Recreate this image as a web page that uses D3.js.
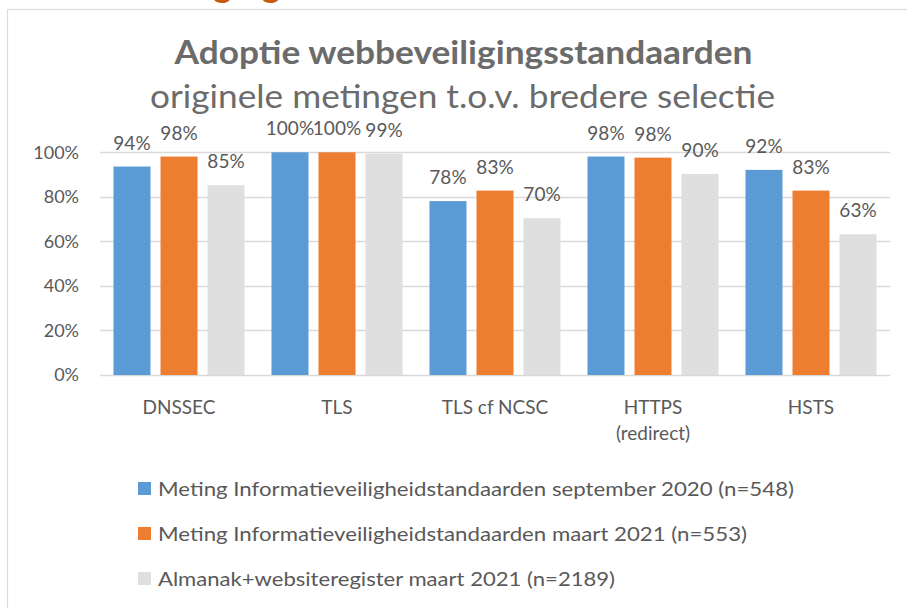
<!DOCTYPE html>
<html>
<head>
<meta charset="utf-8">
<script src="https://cdn.jsdelivr.net/npm/d3@7"></script>
<style>
    html, body { margin: 0; padding: 0; background: #fff; overflow: hidden; }
    text { font-family: Lato, "Open Sans", sans-serif; }
</style>
</head>
<body>
<div id="chart"></div>
<script>
// data
let categories = ["DNSSEC", "TLS", "TLS cf NCSC", "HTTPS\n(redirect)", "HSTS"];
let seriesNames = [
    "Meting Informatieveiligheidstandaarden september 2020 (n=548)",
    "Meting Informatieveiligheidstandaarden maart 2021 (n=553)",
    "Almanak+websiteregister maart 2021 (n=2189)"
];
let sep2020 = [0.936, 1.0, 0.781, 0.981, 0.921];
let mrt2021 = [0.981, 1.0, 0.828, 0.976, 0.828];
let almanak = [0.852, 0.994, 0.704, 0.903, 0.632];
let yTicks = [0, 0.2, 0.4, 0.6, 0.8, 1.0];
let seriesColors = ["#5B9BD5", "#ED7D31", "#DFDFDF"];

class adoptionBarChart {
    constructor(parentElement) {
        this.parentElement = parentElement;
        this.series = [sep2020, mrt2021, almanak];
        this.initVis();
    }

    initVis() {
        let vis = this;
        vis.width = 907;
        vis.height = 608;

        vis.svg = d3.select("#" + vis.parentElement).append("svg")
            .attr("width", vis.width)
            .attr("height", vis.height);

        // cut off orange heading of the page above the chart
        vis.heading = vis.svg.append("text")
            .attr("y", -3)
            .attr("fill", "#C55A11")
            .style("font-size", "36px")
            .style("font-weight", "bold")
            .text("Beveiliging");

        // chart box
        vis.svg.append("rect")
            .attr("x", 7.5).attr("y", 9.5)
            .attr("width", 1000).attr("height", 1000)
            .attr("fill", "#fff")
            .attr("stroke", "#dcdcdc")
            .attr("stroke-width", 1.2);

        vis.x0 = d3.scaleBand()
            .domain(categories)
            .range([100, 890]);

        vis.x1 = d3.scaleBand()
            .domain(d3.range(3))
            .range([0, vis.x0.bandwidth()])
            .paddingInner(0.213)
            .paddingOuter(0.287);

        vis.y = d3.scaleLinear()
            .domain([0, 1])
            .range([375, 152.3]);

        vis.wrangleData();
    }

    wrangleData() {
        let vis = this;
        vis.displayData = [];
        vis.series.forEach((s, i) => {
            s.forEach((v, j) => {
                vis.displayData.push({cat: categories[j], s: i, value: v});
            });
        });
        vis.updateVis();
    }

    updateVis() {
        let vis = this;

        // heading position: put the last "g" where the reference shows it
        let hn = vis.heading.node();
        let g2 = hn.getExtentOfChar(10);
        vis.heading.attr("x", 271 - (g2.x + g2.width / 2));

        // title
        vis.svg.append("text")
            .attr("x", 463.5).attr("y", 64)
            .attr("text-anchor", "middle")
            .attr("fill", "#6b6b6b")
            .attr("textLength", 578)
            .attr("lengthAdjust", "spacingAndGlyphs")
            .style("font-size", "32px")
            .style("font-weight", "bold")
            .text("Adoptie webbeveiligingsstandaarden");

        vis.svg.append("text")
            .attr("x", 462.5).attr("y", 108)
            .attr("text-anchor", "middle")
            .attr("fill", "#6b6b6b")
            .attr("textLength", 625)
            .attr("lengthAdjust", "spacingAndGlyphs")
            .style("font-size", "33px")
            .text("originele metingen t.o.v. bredere selectie");

        // gridlines
        vis.svg.append("g")
            .selectAll("line")
            .data(yTicks)
            .enter().append("line")
            .attr("x1", 100).attr("x2", 890)
            .attr("y1", d => Math.round(vis.y(d)) + 0.5)
            .attr("y2", d => Math.round(vis.y(d)) + 0.5)
            .attr("stroke", "#d9d9d9")
            .attr("stroke-width", 1.5);

        // y axis labels
        let yAxis = d3.axisLeft(vis.y)
            .tickValues(yTicks)
            .tickFormat(d3.format(".0%"))
            .tickSize(0)
            .tickPadding(0);

        vis.svg.append("g")
            .attr("class", "y-axis axis")
            .attr("transform", "translate(79,0)")
            .call(yAxis)
            .call(g => g.select(".domain").remove())
            .selectAll("text")
            .attr("fill", "#595959")
            .style("font-size", "18px");

        // bars
        vis.svg.append("g")
            .selectAll("rect")
            .data(vis.displayData)
            .enter().append("rect")
            .attr("x", d => vis.x0(d.cat) + vis.x1(d.s))
            .attr("y", d => vis.y(d.value))
            .attr("width", vis.x1.bandwidth())
            .attr("height", d => vis.y(0) - vis.y(d.value))
            .attr("fill", d => seriesColors[d.s]);

        // data labels
        vis.svg.append("g")
            .selectAll("text")
            .data(vis.displayData)
            .enter().append("text")
            .attr("x", d => vis.x0(d.cat) + vis.x1(d.s) + vis.x1.bandwidth() / 2)
            .attr("y", d => vis.y(d.value) - 17)
            .attr("text-anchor", "middle")
            .attr("fill", "#595959")
            .style("font-size", "19px")
            .text(d => Math.round(d.value * 100) + "%");

        // x axis labels (can be two lines)
        let xl = vis.svg.append("g")
            .selectAll("text")
            .data(categories)
            .enter().append("text")
            .attr("x", d => vis.x0(d) + vis.x0.bandwidth() / 2)
            .attr("y", 414)
            .attr("text-anchor", "middle")
            .attr("fill", "#595959")
            .style("font-size", "19px");

        xl.selectAll("tspan")
            .data(d => d.split("\n"))
            .enter().append("tspan")
            .attr("x", function () { return d3.select(this.parentNode).attr("x"); })
            .attr("dy", (d, i) => i === 0 ? 0 : 26)
            .text(d => d);

        // legend
        let legendWidths = [636, 589, 457];
        let leg = vis.svg.append("g")
            .selectAll("g")
            .data(seriesNames)
            .enter().append("g")
            .attr("transform", (d, i) => "translate(138," + (482 + i * 45) + ")");

        leg.append("rect")
            .attr("width", 13).attr("height", 13)
            .attr("fill", (d, i) => seriesColors[i]);

        leg.append("text")
            .attr("x", 20).attr("y", 14)
            .attr("fill", "#595959")
            .attr("textLength", (d, i) => legendWidths[i])
            .attr("lengthAdjust", "spacingAndGlyphs")
            .style("font-size", "19px")
            .text(d => d);
    }
}

let chart = new adoptionBarChart("chart");
</script>
</body>
</html>
